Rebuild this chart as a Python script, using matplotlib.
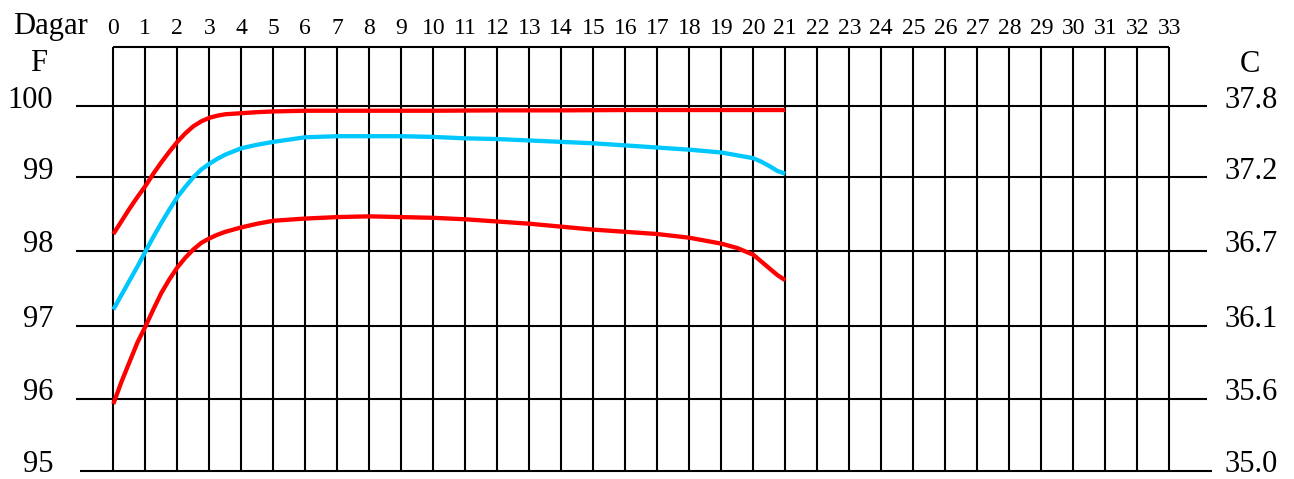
import numpy as np
import matplotlib
matplotlib.use("Agg")
import matplotlib.pyplot as plt
import matplotlib.transforms as mtransforms

plt.rcParams['font.family'] = ['Liberation Serif', 'DejaVu Serif']

# dagar (days) on the top axis
days = list(range(0, 34))
# temperature scale, Fahrenheit left and Celsius right
f_ticks = [95, 96, 97, 98, 99, 100]
c_labels = ['35.0', '35.6', '36.1', '36.7', '37.2', '37.8']

# curves (day, degrees F)
upper_x = [0, 0.25, 0.5, 0.75, 1, 1.25, 1.5, 1.75, 2, 2.25, 2.5, 2.75, 3, 3.25, 3.5,
           4, 4.5, 5, 6, 8, 10, 12, 14, 16, 18, 20, 21]
upper_y = [98.23, 98.40, 98.57, 98.73, 98.88, 99.05, 99.21, 99.36, 99.50, 99.62, 99.72,
           99.79, 99.84, 99.87, 99.89, 99.905, 99.92, 99.93, 99.94, 99.94, 99.94, 99.945,
           99.945, 99.95, 99.95, 99.95, 99.95]

mid_x = [0, 0.25, 0.5, 0.75, 1, 1.25, 1.5, 1.75, 2, 2.25, 2.5, 2.75, 3, 3.25, 3.5,
         4, 4.5, 5, 6, 7, 8, 9, 10, 11, 12, 13, 14, 15,
         16, 17, 18, 19, 19.5, 20, 20.25, 20.5, 20.75, 21]
mid_y = [97.22, 97.41, 97.60, 97.79, 97.99, 98.19, 98.38, 98.56, 98.73, 98.87, 99.0,
         99.11, 99.19, 99.26, 99.32, 99.41, 99.46, 99.50, 99.565, 99.58, 99.58, 99.58,
         99.57, 99.55, 99.54, 99.52, 99.50, 99.48,
         99.45, 99.42, 99.39, 99.35, 99.31, 99.27, 99.22, 99.16, 99.09, 99.05]

low_x = [0, 0.25, 0.5, 0.75, 1, 1.25, 1.5, 1.75, 2, 2.25, 2.5, 2.75, 3, 3.25, 3.5,
         4, 4.5, 5, 6, 7, 8, 9, 10, 11, 12, 13, 14, 15,
         16, 17, 18, 19, 19.5, 20, 20.25, 20.5, 20.75, 21]
low_y = [95.93, 96.23, 96.50, 96.77, 96.99, 97.22, 97.44, 97.62, 97.78, 97.91, 98.02,
         98.11, 98.17, 98.22, 98.26, 98.32, 98.37, 98.41, 98.44, 98.46, 98.47, 98.46,
         98.45, 98.43, 98.40, 98.37, 98.33, 98.29,
         98.26, 98.23, 98.18, 98.10, 98.04, 97.95, 97.86, 97.77, 97.68, 97.61]

# the printed grid is not evenly spaced; map F to pixel height above the 95 line
grid_f = np.array([95, 96, 97, 98, 99, 100], dtype=float)
grid_px = np.array([0, 71.7, 144.7, 219.7, 293.4, 364.2])


def fwd(v):
    v = np.asarray(v, dtype=float)
    out = np.interp(v, grid_f, grid_px)
    out = np.where(v > 100, 364.2 + (v - 100) * 70.8, out)
    out = np.where(v < 95, (v - 95) * 71.7, out)
    return out


def inv(p):
    p = np.asarray(p, dtype=float)
    out = np.interp(p, grid_px, grid_f)
    out = np.where(p > 364.2, 100 + (p - 364.2) / 70.8, out)
    out = np.where(p < 0, 95 + p / 71.7, out)
    return out


W, H = 1294, 479
fig = plt.figure(figsize=(W / 100, H / 100), dpi=100)
ax = fig.add_axes([76 / W, (H - 470.7) / H, 1131 / W, 423.7 / H])
ytop = 100.84
ax.set_yscale('function', functions=(fwd, inv))
ax.set_xlim(-1.166, 34.18)
ax.set_ylim(95, ytop)
ax.set_xticks([])
ax.set_yticks([])
for s in ax.spines.values():
    s.set_visible(False)

# grid
ax.vlines(days, 95, ytop, color='black', lw=1.5, zorder=1)
ax.hlines(ytop, 0, 33, color='black', lw=1.5, zorder=1, clip_on=False)
ax.hlines(f_ticks[1:], -1.166, 34.18, color='black', lw=1.5, zorder=1, clip_on=False)
ax.hlines(95, -1.05, 34.33, color='black', lw=1.5, zorder=1, clip_on=False)

# curves
for xs, ys, col in [(upper_x, upper_y, '#ff0000'),
                    (mid_x, mid_y, '#00c8ff'),
                    (low_x, low_y, '#ff0000')]:
    ax.plot(xs, ys, color=col, lw=3.1, zorder=3,
            solid_capstyle='butt', solid_joinstyle='round')

# day labels along the top
top_tr = mtransforms.blended_transform_factory(ax.transData, fig.transFigure)
for d in days:
    ax.text(d, 1 - 34.3 / H, str(d), transform=top_tr, fontsize=17,
            ha='center', va='baseline', clip_on=False)

# temperature labels, sitting a little above their lines
lab_tr = mtransforms.blended_transform_factory(fig.transFigure, ax.transData)
up = mtransforms.ScaledTranslation(0, 6 / 100, fig.dpi_scale_trans)
for f, c in zip(f_ticks, c_labels):
    ax.text(53 / W, f, str(f), transform=lab_tr + up, fontsize=22,
            ha='right', va='center', clip_on=False)
    ax.text(1225 / W, f, c, transform=lab_tr + up, fontsize=22,
            ha='left', va='center', clip_on=False)

fig.text(39 / W, 1 - 71 / H, 'F', fontsize=22, ha='center', va='baseline')
fig.text(1250 / W, 1 - 72 / H, 'C', fontsize=22, ha='center', va='baseline')
fig.text(13 / W, 1 - 34.3 / H, 'Dagar', fontsize=22, ha='left', va='baseline')

fig.savefig('out.png', dpi=100)
